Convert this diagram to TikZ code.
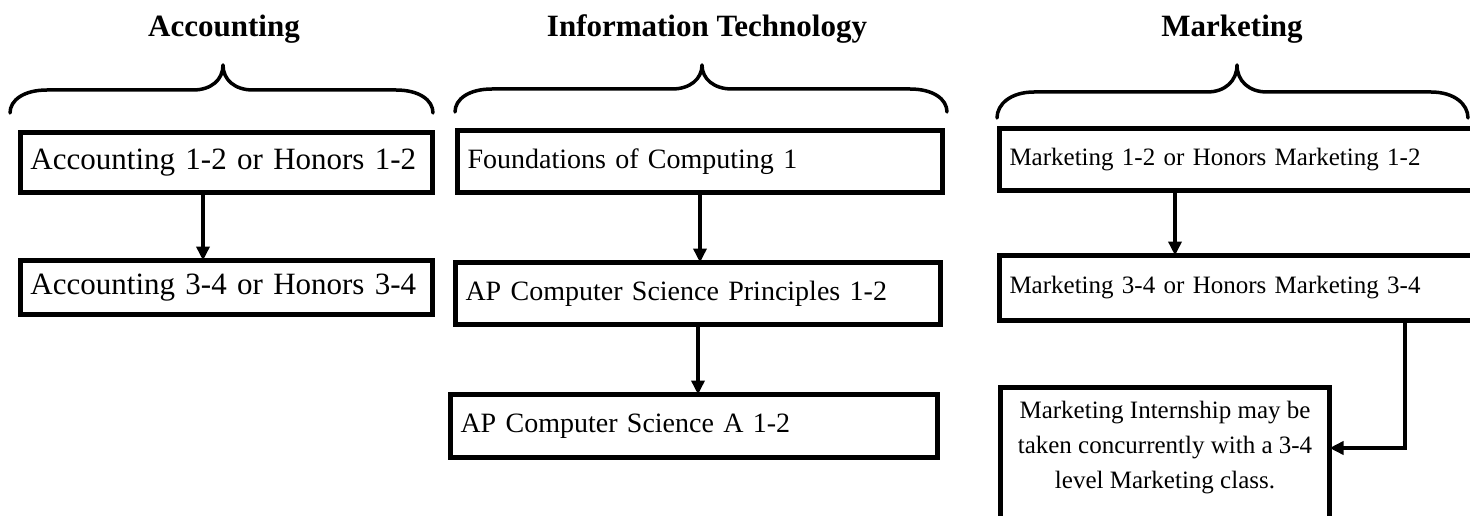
\documentclass[tikz,border=0pt]{standalone}
\usepackage{fontspec}
\setmainfont{Liberation Serif}
\usetikzlibrary{arrows.meta}
\begin{document}
\begin{tikzpicture}[x=1pt,y=-1pt,
  course/.style={draw, line width=5pt, rectangle, outer sep=0pt, inner xsep=10pt, inner ysep=0pt,
    align=left, anchor=north west, font=\fontsize{31}{36}\selectfont},
  itc/.style={course, font=\fontsize{28}{34}\selectfont},
  mkt/.style={course, font=\fontsize{25}{35}\selectfont},
  title/.style={font=\bfseries\fontsize{31}{36}\selectfont, anchor=base, inner sep=0pt},
  flow/.style={line width=3.5pt, -{Triangle[length=14pt,width=13pt]}},
  brace/.style={line width=3.5pt, line join=round, line cap=round}]

\useasboundingbox (0,0) rectangle (1470,516);
\clip (0,0) rectangle (1470,516);

% titles
\node[title] (tA) at (224,37) {Accounting};
\node[title] (tI) at (707,37) {Information Technology};
\node[title] (tM) at (1232,37) {Marketing};

% braces
\draw[brace] (10,113) .. controls (10,100) and (24,90) .. (47,90) -- (193,90)
  .. controls (211,90) and (223,80) .. (223,65)
  .. controls (223,80) and (235,90) .. (253,90) -- (396,90)
  .. controls (419,90) and (433,100) .. (433,113);
\draw[brace] (455,112) .. controls (455,99) and (469,89) .. (492,89) -- (672,89)
  .. controls (690,89) and (702,79) .. (702,65)
  .. controls (702,79) and (714,89) .. (732,89) -- (910,89)
  .. controls (933,89) and (947,99) .. (947,112);
\draw[brace] (997,118) .. controls (997,104) and (1011,92) .. (1034,92) -- (1207,92)
  .. controls (1225,92) and (1237,81) .. (1237,65)
  .. controls (1237,81) and (1249,92) .. (1267,92) -- (1431,92)
  .. controls (1454,92) and (1468,104) .. (1468,118);

% Accounting
\node[course, minimum width=412pt, minimum height=60pt, text width=392pt] (a1) at (20.5,132.5) {Accounting 1-2 or Honors 1-2};
\node[course, minimum width=412pt, minimum height=54pt, text width=392pt] (a2) at (20.5,260.5) {Accounting 3-4 or Honors 3-4};

% Information Technology
\node[itc, minimum width=485pt, minimum height=62pt, text width=465pt] (i1) at (457.5,130.5) {Foundations of Computing 1};
\node[itc, minimum width=485pt, minimum height=62pt, text width=465pt] (i2) at (455.5,262.5) {AP Computer Science Principles 1-2};
\node[itc, minimum width=487pt, minimum height=63pt, text width=467pt] (i3) at (450.5,394.5) {AP Computer Science A 1-2};

% Marketing
\node[mkt, minimum width=520pt, minimum height=62pt, text width=500pt] (m1) at (999.5,128.5) {Marketing 1-2 or Honors Marketing 1-2};
\node[mkt, minimum width=520pt, minimum height=65pt, text width=500pt] (m2) at (999.5,255.5) {Marketing 3-4 or Honors Marketing 3-4};
\node[mkt, minimum width=329.5pt, minimum height=170pt] (m3) at (1000,387) {};
\node[font=\fontsize{25}{35}\selectfont, align=center, anchor=north, inner sep=0pt] (m3t) at (1165,401)
  {Marketing Internship may be\\taken concurrently with a 3-4\\level Marketing class.};

% connectors
\draw[flow] (a1.south -| 203,0) -- (a2.north -| 203,0);
\draw[flow] (i1.south -| 700,0) -- (i2.north -| 700,0);
\draw[flow] (i2.south -| 698,0) -- (i3.north -| 698,0);
\draw[flow] (m1.south -| 1175,0) -- (m2.north -| 1175,0);
\draw[flow] (m2.south -| 1405,0) |- (m3.east |- 0,448);
\end{tikzpicture}
\end{document}
